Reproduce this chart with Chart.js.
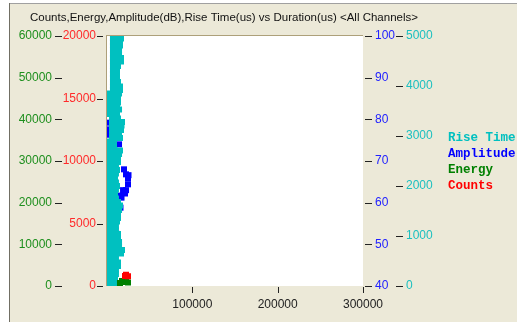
<!DOCTYPE html>
<html><head><meta charset="utf-8">
<script src="https://cdn.jsdelivr.net/npm/chart.js@4"></script>
<style>html,body{margin:0;padding:0;background:#fff;overflow:hidden}canvas{display:block}</style>
</head><body>
<canvas id="c" width="517" height="325"></canvas>
<script>
const chartTitle = 'Counts,Energy,Amplitude(dB),Rise Time(us) vs Duration(us) <All Channels>';
const legendNames = ['Rise Time', 'Amplitude', 'Energy', 'Counts'];

// Rise Time (us) rows and the Duration (us) values of the hits in each row
const riseTime = [5040, 4950, 4880, 4810, 4720, 4630, 4560, 4490, 4400, 4310, 4240, 4170, 4080, 3990, 3920, 3850,
  3760, 3670, 3600, 3530, 3440, 3350, 3280, 3210, 3120, 3030, 2960, 2890, 2800, 2710, 2640, 2570,
  2480, 2390, 2320, 2250, 2160, 2070, 2000, 1930, 1840, 1750, 1680, 1610, 1520, 1430, 1360, 1290,
  1200, 1110, 1040, 970, 880, 790, 720, 650, 560, 470, 400, 330, 240, 150, 80, 0];
const riseDuration = [
  [7000, 11700, 16400], [7000, 11700, 16400], [7000, 11700, 15200], [7000, 11700, 15200],
  [7000, 11700, 14100], [7000, 11700, 14100], [7000, 11700, 16400], [7000, 11700, 16400],
  [7000, 12900], [7000, 11700], [7000, 11700], [7000, 11700],
  [7000, 12900], [7000, 11700, 15200], [7000, 11700, 15200], [3500, 9400, 14100],
  [3500, 9400, 12900], [3500, 9400, 12900], [3500, 9400, 11700], [3500, 9400, 14100],
  [3500, 9400, 11700], [5900, 12900], [5900, 11700, 17600], [5900, 11700, 17000],
  [5900, 11700, 16400], [5900, 11700, 14100], [5900, 11700, 15200], [3500, 8200],
  [3500, 8200], [3500, 9400, 15200], [3500, 9400, 14100], [3500, 9400, 12900],
  [3500, 9400, 12900], [3500, 10500], [3500, 8200, 11700], [3500, 10500],
  [3500, 9400], [3500, 10500], [3500, 8200, 11700], [3500, 10500],
  [3500, 9400], [3500, 10500], [3500, 9400, 12900], [3500, 9400, 15200],
  [3500, 9400, 14100], [3500, 9400, 12900], [3500, 9400, 12900], [3500, 9400, 11700],
  [3500, 10500], [3500, 10500], [3500, 9400, 12900], [3500, 9400, 12900],
  [3500, 9400, 14100], [3500, 9400, 14100], [3500, 9400, 13500, 17600], [3500, 9400, 16400],
  [3500, 10500], [3500, 9400, 12900], [3500, 9400, 12900], [3500, 10500],
  [3500, 10500], [3500, 9400], [3500, 8200], [3500, 8200]
];

// Amplitude (dB)
const ampDuration = [1800, 1800, 1800, 14100, 19900, 22300, 24600, 25200, 24600, 22300, 18800, 21100, 16400, 17000, 15800,
  10500, 5900, 8200, 3500, 12900, 9400, 4700, 7000, 11700];
const ampValue = [79.2, 77.6, 76.3, 74.0, 68.0, 66.8, 65.8, 66.6, 64.4, 63.0, 63.0, 62.2, 61.7, 61.2, 58.8,
  71.3, 69.5, 66.0, 72.8, 60.5, 57.0, 64.0, 55.0, 52.5];

// Energy
const energyDuration = [15200, 17600, 19900, 22300, 24600];
const energyValue = [720, 1200, 960, 1200, 840];

// Counts
const countsDuration = [21100, 22300, 24600];
const countsValue = [800, 900, 780];

const colors = { rise: '#00C0C0', amp: '#0000FF', energy: '#008000', counts: '#FF0000' };
const labelColors = { rise: '#1CC0C0', amp: '#2222FF', energy: '#1E8F1E', counts: '#FF2A2A' };

const risePoints = [];
riseTime.forEach((t, i) => riseDuration[i].forEach(d => risePoints.push({ x: d, y: t })));
const pairs = (xs, ys) => xs.map((x, i) => ({ x: x, y: ys[i] }));

const pointCommon = { pointStyle: 'rect', pointRadius: 4.25, pointHoverRadius: 4.25, pointBorderWidth: 0, borderWidth: 0, showLine: false, clip: 0 };

const tickFont = { family: '"Liberation Sans", Arial, sans-serif', size: 12 };
const plain = v => String(v);

const deco = {
  id: 'deco',
  beforeDraw(chart) {
    const ctx = chart.ctx, a = chart.chartArea;
    ctx.save();
    ctx.fillStyle = '#ffffff'; ctx.fillRect(0, 0, 517, 325);
    ctx.fillStyle = '#ECE9D8'; ctx.fillRect(9, 3, 508, 319);
    ctx.lineWidth = 1;
    ctx.strokeStyle = '#A0A0A0';
    ctx.beginPath(); ctx.moveTo(9, 3.5); ctx.lineTo(517, 3.5); ctx.stroke();
    ctx.strokeStyle = '#716F64';
    ctx.beginPath(); ctx.moveTo(9.5, 3); ctx.lineTo(9.5, 322); ctx.stroke();
    ctx.fillStyle = '#ffffff'; ctx.fillRect(a.left, a.top, a.right - a.left, a.bottom - a.top);
    ctx.restore();
  },
  afterDraw(chart) {
    const ctx = chart.ctx, a = chart.chartArea, s = chart.scales;
    ctx.save();
    ctx.lineWidth = 1;
    ctx.strokeStyle = '#ADA07A';
    ctx.beginPath();
    ctx.moveTo(a.left - 1, a.top - 0.5); ctx.lineTo(a.right, a.top - 0.5);
    ctx.moveTo(a.left - 0.5, a.top - 1); ctx.lineTo(a.left - 0.5, a.bottom);
    ctx.stroke();
    ctx.strokeStyle = '#222';
    const hdash = (sc, x1, x2) => sc.ticks.forEach(t => {
      const y = Math.round(sc.getPixelForValue(t.value)) + 0.5;
      ctx.beginPath(); ctx.moveTo(x1, y); ctx.lineTo(x2, y); ctx.stroke();
    });
    hdash(s.energy, 55, 62);
    hdash(s.counts, 97, 103);
    hdash(s.amp, 365, 372);
    hdash(s.rise, 396, 403);
    s.x.ticks.forEach(t => {
      if (t.value === 0) return;
      const x = Math.round(s.x.getPixelForValue(t.value)) + 0.5;
      ctx.beginPath(); ctx.moveTo(x, a.bottom + 1); ctx.lineTo(x, a.bottom + 7); ctx.stroke();
    });
    ctx.fillStyle = '#111';
    ctx.font = '11.5px "Liberation Sans", Arial, sans-serif';
    ctx.textBaseline = 'middle';
    ctx.textAlign = 'left';
    ctx.fillText(chartTitle, 30, 18);
    ctx.font = 'bold 12.5px "Liberation Mono", "Courier New", monospace';
    const lc = [colors.rise, colors.amp, colors.energy, colors.counts];
    legendNames.forEach((n, i) => { ctx.fillStyle = lc[i]; ctx.fillText(n, 448, 138 + 16 * i); });
    ctx.restore();
  }
};

const yAxis = (pos, weight, min, max, step, color, pad, width) => ({
  type: 'linear', position: pos, weight: weight, min: min, max: max,
  ticks: { stepSize: step, color: color, font: tickFont, padding: pad, callback: plain, autoSkip: false },
  grid: { display: false, drawTicks: false }, border: { display: false },
  afterFit: sc => { sc.width = width; }
});

new Chart(document.getElementById('c'), {
  type: 'scatter',
  data: {
    datasets: [
      Object.assign({ label: 'Counts', data: pairs(countsDuration, countsValue), yAxisID: 'counts', backgroundColor: colors.counts, order: 1 }, pointCommon),
      Object.assign({ label: 'Energy', data: pairs(energyDuration, energyValue), yAxisID: 'energy', backgroundColor: colors.energy, order: 2 }, pointCommon),
      Object.assign({ label: 'Rise Time', data: risePoints, yAxisID: 'rise', backgroundColor: colors.rise, order: 3 }, pointCommon),
      Object.assign({ label: 'Amplitude', data: pairs(ampDuration, ampValue), yAxisID: 'amp', backgroundColor: colors.amp, order: 4 }, pointCommon)
    ]
  },
  options: {
    responsive: false, animation: false, events: [],
    layout: { padding: { left: 0, right: 82, top: 36, bottom: 0 } },
    plugins: { legend: { display: false }, tooltip: { enabled: false }, title: { display: false } },
    scales: {
      x: {
        type: 'linear', position: 'bottom', min: 0, max: 300000,
        ticks: { stepSize: 100000, color: '#222', font: tickFont, padding: 11, maxRotation: 0, minRotation: 0, autoSkip: false,
          callback: v => (v === 0 ? '' : String(v)) },
        grid: { display: false, drawTicks: false }, border: { display: false },
        afterFit: sc => { sc.height = 39; }
      },
      energy: yAxis('left', 2, 0, 60000, 10000, labelColors.energy, 11, 63),
      counts: yAxis('left', 1, 0, 20000, 5000, labelColors.counts, 11, 44),
      amp: yAxis('right', 1, 40, 100, 10, labelColors.amp, 12, 32),
      rise: yAxis('right', 2, 0, 5000, 1000, labelColors.rise, 11, 40)
    }
  },
  plugins: [deco]
});
</script>
</body></html>
